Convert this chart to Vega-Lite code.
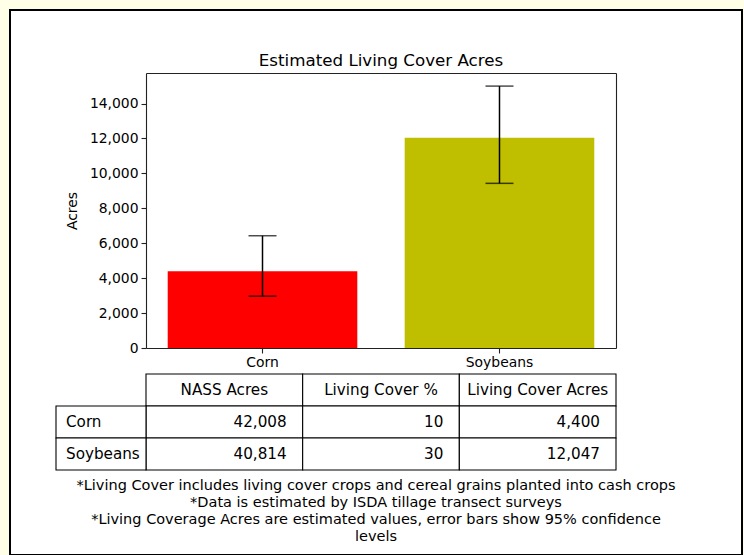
{
  "$schema": "https://vega.github.io/schema/vega-lite/v6.json",
  "width": 732,
  "height": 545,
  "autosize": {"type": "none"},
  "padding": {"left": 10, "top": 10, "right": 2, "bottom": 0},
  "background": "#fffee6",
  "config": {
    "view": {"fill": "white", "stroke": "black", "strokeWidth": 2},
    "font": "DejaVu Sans",
    "text": {"font": "DejaVu Sans", "color": "black"},
    "axis": {"labelFont": "DejaVu Sans", "titleFont": "DejaVu Sans", "labelColor": "black", "titleColor": "black", "domainColor": "#222222", "tickColor": "#222222", "grid": false}
  },
  "title": {
    "text": "Estimated Living Cover Acres",
    "font": "DejaVu Sans",
    "fontSize": 16.7,
    "fontWeight": "normal",
    "color": "black",
    "anchor": "middle",
    "frame": "group",
    "baseline": "alphabetic",
    "offset": 0,
    "dx": 5,
    "dy": 73
  },
  "datasets": {
    "bars": [
      {"crop": "Corn", "acres": 4400, "lower": 2970, "upper": 6430},
      {"crop": "Soybeans", "acres": 12047, "lower": 9430, "upper": 15000}
    ],
    "cells": [
      {"row": "Corn", "column": "NASS Acres", "value": 42008},
      {"row": "Corn", "column": "Living Cover %", "value": 10},
      {"row": "Corn", "column": "Living Cover Acres", "value": 4400},
      {"row": "Soybeans", "column": "NASS Acres", "value": 40814},
      {"row": "Soybeans", "column": "Living Cover %", "value": 30},
      {"row": "Soybeans", "column": "Living Cover Acres", "value": 12047}
    ],
    "header": [
      {"column": "NASS Acres"},
      {"column": "Living Cover %"},
      {"column": "Living Cover Acres"}
    ],
    "rowlabels": [
      {"row": "Corn"},
      {"row": "Soybeans"}
    ],
    "notes": [
      {"line": 1, "text": "*Living Cover includes living cover crops and cereal grains planted into cash crops"},
      {"line": 2, "text": "*Data is estimated by ISDA tillage transect surveys"},
      {"line": 3, "text": "*Living Coverage Acres are estimated values, error bars show 95% confidence"},
      {"line": 4, "text": "levels"}
    ]
  },
  "layer": [
    {
      "data": {"name": "bars"},
      "layer": [
        {
          "mark": {"type": "bar"},
          "encoding": {
            "x": {
              "field": "crop", "type": "nominal",
              "scale": {"type": "band", "domain": ["Corn", "Soybeans"], "range": [136, 606], "paddingInner": 0.2, "paddingOuter": 0.0916},
              "axis": {"orient": "bottom", "offset": -207, "title": null, "labelAngle": 0, "labelFontSize": 13.9, "labelPadding": 2, "tickSize": 5, "domainWidth": 1.1, "tickWidth": 1.1}
            },
            "y": {
              "field": "acres", "type": "quantitative",
              "scale": {"domain": [0, 15750], "range": [338, 63], "nice": false, "zero": true},
              "axis": {"orient": "left", "offset": -136, "title": "Acres", "titleFontSize": 13.9, "titleFontWeight": "normal", "titlePadding": 10, "values": [0, 2000, 4000, 6000, 8000, 10000, 12000, 14000], "format": ",d", "labelFontSize": 13.9, "labelPadding": 3, "tickSize": 5, "domainWidth": 1.1, "tickWidth": 1.1}
            },
            "color": {"field": "crop", "type": "nominal", "scale": {"domain": ["Corn", "Soybeans"], "range": ["#ff0000", "#bfbf00"]}, "legend": null}
          }
        },
        {
          "mark": {"type": "rule", "color": "black", "strokeWidth": 1.5},
          "encoding": {
            "x": {"field": "crop", "type": "nominal", "axis": null},
            "y": {"field": "lower", "type": "quantitative", "axis": null},
            "y2": {"field": "upper"}
          }
        },
        {
          "mark": {"type": "tick", "orient": "horizontal", "size": 28, "thickness": 1.5, "color": "black"},
          "encoding": {
            "x": {"field": "crop", "type": "nominal", "axis": null},
            "y": {"field": "lower", "type": "quantitative", "axis": null}
          }
        },
        {
          "mark": {"type": "tick", "orient": "horizontal", "size": 28, "thickness": 1.5, "color": "black"},
          "encoding": {
            "x": {"field": "crop", "type": "nominal", "axis": null},
            "y": {"field": "upper", "type": "quantitative", "axis": null}
          }
        },
        {
          "mark": {"type": "rule", "opacity": 0},
          "encoding": {
            "x": {"field": "crop", "type": "nominal", "axis": {"orient": "top", "offset": -63, "labels": false, "ticks": false, "title": null, "domainWidth": 1.1}},
            "y": {"field": "acres", "type": "quantitative", "axis": {"orient": "right", "offset": -126, "labels": false, "ticks": false, "title": null, "domainWidth": 1.1}}
          }
        }
      ],
      "resolve": {"axis": {"x": "independent", "y": "independent"}}
    },
    {
      "layer": [
        {
          "data": {"name": "header"},
          "mark": {"type": "rect", "fill": "white", "stroke": "black", "strokeWidth": 1.1},
          "encoding": {
            "x": {"field": "column", "type": "nominal", "scale": {"type": "band", "domain": ["NASS Acres", "Living Cover %", "Living Cover Acres"], "range": [136, 606], "paddingInner": 0, "paddingOuter": 0}, "axis": null},
            "y": {"datum": "header", "type": "nominal", "scale": {"type": "band", "domain": ["header", "Corn", "Soybeans"], "range": [364, 460], "paddingInner": 0, "paddingOuter": 0}, "axis": null}
          }
        },
        {
          "data": {"name": "cells"},
          "mark": {"type": "rect", "fill": "white", "stroke": "black", "strokeWidth": 1.1},
          "encoding": {
            "x": {"field": "column", "type": "nominal", "axis": null},
            "y": {"field": "row", "type": "nominal", "axis": null}
          }
        },
        {
          "data": {"name": "header"},
          "mark": {"type": "text", "align": "center", "baseline": "middle", "fontSize": 15.2},
          "encoding": {
            "x": {"field": "column", "type": "nominal", "axis": null},
            "y": {"datum": "header", "type": "nominal", "axis": null},
            "text": {"field": "column"}
          }
        },
        {
          "data": {"name": "cells"},
          "mark": {"type": "text", "align": "right", "baseline": "middle", "fontSize": 15.2, "dx": -16},
          "encoding": {
            "x": {"field": "column", "type": "nominal", "bandPosition": 1, "axis": null},
            "y": {"field": "row", "type": "nominal", "axis": null},
            "text": {"field": "value", "type": "quantitative", "format": ",d"}
          }
        }
      ]
    },
    {
      "data": {"name": "rowlabels"},
      "layer": [
        {
          "mark": {"type": "rect", "fill": "white", "stroke": "black", "strokeWidth": 1.1},
          "encoding": {
            "x": {"datum": "label", "type": "nominal", "scale": {"type": "band", "domain": ["label"], "range": [46, 136], "paddingInner": 0, "paddingOuter": 0}, "axis": null},
            "y": {"field": "row", "type": "nominal", "scale": {"type": "band", "domain": ["header", "Corn", "Soybeans"], "range": [364, 460], "paddingInner": 0, "paddingOuter": 0}, "axis": null}
          }
        },
        {
          "mark": {"type": "text", "align": "left", "baseline": "middle", "fontSize": 15.2, "dx": 10},
          "encoding": {
            "x": {"datum": "label", "type": "nominal", "bandPosition": 0, "axis": null},
            "y": {"field": "row", "type": "nominal", "axis": null},
            "text": {"field": "row"}
          }
        }
      ]
    },
    {
      "data": {"name": "notes"},
      "mark": {"type": "text", "align": "center", "baseline": "middle", "fontSize": 14.5},
      "encoding": {
        "x": {"datum": "c", "type": "nominal", "scale": {"type": "band", "domain": ["c"], "range": [0, 732], "paddingInner": 0, "paddingOuter": 0}, "axis": null},
        "y": {"field": "line", "type": "ordinal", "scale": {"type": "point", "domain": [1, 2, 3, 4], "range": [476, 527], "padding": 0}, "axis": null},
        "text": {"field": "text"}
      }
    }
  ],
  "resolve": {"scale": {"x": "independent", "y": "independent"}}
}
